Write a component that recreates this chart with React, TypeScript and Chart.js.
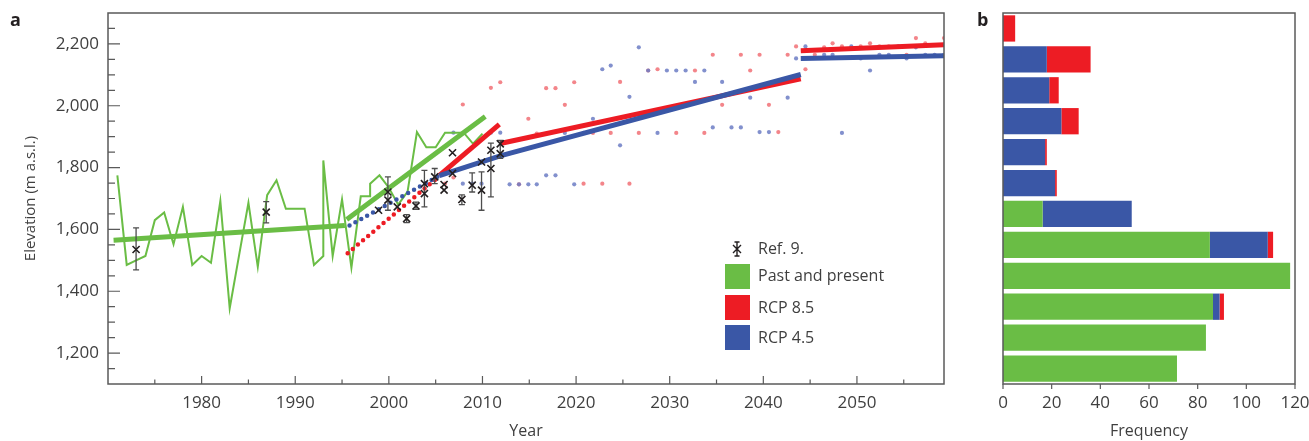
import React, { useEffect, useRef } from 'react';
import { Chart, registerables } from 'chart.js';

Chart.register(...registerables);

const FONT = "'Open Sans', 'DejaVu Sans', sans-serif";
const TEXT = '#3f3f3f';
const AXIS = '#5a5a5a';
const GREEN = '#6abd45';
const RED = '#ed1c24';
const BLUE = '#3a57a6';
const RED_DOT = 'rgba(241,112,118,0.85)';
const BLUE_DOT = 'rgba(108,124,196,0.85)';

// ---------- Panel a ----------
const xTickYears = [1980, 1990, 2000, 2010, 2020, 2030, 2040, 2050];
const yTickElev = [1200, 1400, 1600, 1800, 2000, 2200];

// observed snow-line elevation (past and present)
const obsYears = [1971, 1972, 1973, 1974, 1975, 1976, 1977, 1978, 1979, 1980, 1981, 1982, 1983, 1984, 1985, 1986, 1987, 1988, 1989, 1990, 1991, 1992, 1993, 1993, 1994, 1995, 1996, 1997, 1998, 1998, 1999, 2000, 2001, 2002, 2003, 2004, 2005, 2006, 2007, 2008, 2009, 2010];
const obsElev = [1775, 1485, 1500, 1514, 1630, 1655, 1552, 1673, 1485, 1514, 1492, 1692, 1345, 1516, 1686, 1479, 1711, 1759, 1667, 1667, 1667, 1485, 1514, 1823, 1514, 1697, 1476, 1707, 1707, 1748, 1775, 1735, 1680, 1722, 1915, 1866, 1866, 1913, 1913, 1913, 1877, 1910];

// linear trends of past and present
const trendPastYears = [1970.6, 1995.3];
const trendPastElev = [1565, 1613];
const trendRecentYears = [1995.5, 2010.3];
const trendRecentElev = [1632, 1965];

// projected, hindcast (dotted)
const rcp85HindYears = [1995.6, 2005.3];
const rcp85HindElev = [1523, 1770];
const rcp45HindYears = [1995.8, 2005.3];
const rcp45HindElev = [1613, 1772];

// projected trends
const rcp85FitAYears = [2005.4, 2011.8];
const rcp85FitAElev = [1775, 1940];
const rcp85FitBYears = [2011.9, 2044.0];
const rcp85FitBElev = [1878, 2087];
const rcp45FitYears = [2005.4, 2011.9, 2044.0];
const rcp45FitElev = [1774, 1838, 2101];
const rcp85LateYears = [2044.0, 2059.3];
const rcp85LateElev = [2178, 2197];
const rcp45LateYears = [2044.0, 2059.3];
const rcp45LateElev = [2153, 2162];

// projected yearly values
const proj85Years = [2006.0, 2006.9, 2007.9, 2010.9, 2011.9, 2013.9, 2014.9, 2015.8, 2016.8, 2017.8, 2018.8, 2019.8, 2020.8, 2021.8, 2022.8, 2023.7, 2024.7, 2025.7, 2026.7, 2027.7, 2028.7, 2030.7, 2032.7, 2033.7, 2034.6, 2035.6, 2037.6, 2038.6, 2039.6, 2040.6, 2041.6, 2042.6, 2043.5, 2044.5, 2045.5, 2046.5, 2047.4, 2048.4, 2050.4, 2051.4, 2052.4, 2053.4, 2055.3, 2056.3, 2057.3, 2059.3];
const proj85Elev = [1748, 1768, 2004, 2058, 2076, 1746, 1958, 1910, 2057, 2057, 2003, 2076, 1748, 1912, 1748, 1912, 2077, 1748, 1912, 2114, 2118, 1912, 2114, 1912, 2165, 2003, 2165, 2114, 2165, 2003, 1915, 2165, 2192, 2118, 2165, 2189, 2202, 2192, 2192, 2202, 2192, 2192, 2165, 2219, 2202, 2219];
const proj45Years = [2006.9, 2007.9, 2008.9, 2009.9, 2010.9, 2011.9, 2012.9, 2013.9, 2014.9, 2015.8, 2016.8, 2017.8, 2018.8, 2019.8, 2020.8, 2021.8, 2022.8, 2023.7, 2024.7, 2025.7, 2026.7, 2027.7, 2028.7, 2029.7, 2030.7, 2031.7, 2032.7, 2033.7, 2034.6, 2035.6, 2036.6, 2037.6, 2038.6, 2039.6, 2040.6, 2041.6, 2042.6, 2043.5, 2044.5, 2046.5, 2047.4, 2048.4, 2049.4, 2050.4, 2051.4, 2052.4, 2053.4, 2054.4, 2055.3, 2056.3, 2057.3, 2058.3, 2059.3];
const proj45Elev = [1913, 1748, 1748, 1748, 1913, 1913, 1746, 1746, 1746, 1746, 1775, 1775, 1912, 1746, 1912, 1958, 2118, 2130, 1872, 2029, 2189, 2114, 1912, 2114, 2114, 2114, 2077, 2114, 1930, 2077, 1930, 1930, 2026, 1915, 1915, 2077, 2026, 2153, 2192, 2165, 2165, 1912, 2192, 2153, 2114, 2165, 2165, 2192, 2153, 2189, 2165, 2165, 2165];

// Ref. 9 observations with error bars
const refYears = [1973.0, 1986.9, 1998.9, 1999.9, 1999.9, 2000.9, 2001.9, 2002.9, 2003.8, 2003.8, 2004.9, 2005.9, 2005.9, 2006.8, 2006.8, 2007.8, 2008.9, 2009.9, 2009.9, 2010.9, 2010.9, 2011.9, 2011.9];
const refElev = [1535, 1656, 1662, 1721, 1695, 1673, 1635, 1676, 1748, 1716, 1770, 1727, 1745, 1848, 1781, 1697, 1743, 1727, 1818, 1797, 1856, 1877, 1845];
const refLow = [1469, 1621, 1662, 1662, 1695, 1673, 1622, 1665, 1673, 1716, 1748, 1727, 1745, 1848, 1781, 1680, 1721, 1662, 1818, 1705, 1856, 1830, 1845];
const refHigh = [1605, 1690, 1662, 1770, 1695, 1673, 1648, 1688, 1791, 1716, 1797, 1727, 1745, 1848, 1781, 1712, 1783, 1786, 1818, 1879, 1856, 1888, 1845];

const legendLabels = ['Ref. 9.', 'Past and present', 'RCP 8.5', 'RCP 4.5'];

// ---------- Panel b ----------
const binLabels = ['2,200–2,300', '2,100–2,200', '2,000–2,100', '1,900–2,000', '1,800–1,900', '1,700–1,800', '1,600–1,700', '1,500–1,600', '1,400–1,500', '1,300–1,400', '1,200–1,300', '1,100–1,200'];
const freqPast = [0, 0, 0, 0, 0, 0, 16.3, 85, 118, 86.3, 83.4, 71.5];
const freq45 = [0, 18, 19, 24, 17.3, 21.4, 36.6, 23.8, 0, 2.7, 0, 0];
const freq85 = [5, 18, 3.9, 7.1, 0.7, 0.7, 0, 2.2, 0, 1.8, 0, 0];
const freqTicks = [0, 20, 40, 60, 80, 100, 120];

const xy = (xs: number[], ys: number[]) => xs.map((x, i) => ({ x, y: ys[i] }));

const noPad = (s: any) => {
  s.paddingTop = 0;
  s.paddingBottom = 0;
  s.paddingLeft = 0;
  s.paddingRight = 0;
};

function lineSet(label: string, xs: number[], ys: number[], color: string, width: number, order: number, extra: any = {}) {
  return {
    label,
    data: xy(xs, ys),
    showLine: true,
    borderColor: color,
    backgroundColor: color,
    borderWidth: width,
    pointRadius: 0,
    pointHoverRadius: 0,
    tension: 0,
    fill: false,
    order,
    ...extra,
  };
}

function dotSet(label: string, xs: number[], ys: number[], color: string, order: number) {
  return {
    label,
    data: xy(xs, ys),
    showLine: false,
    pointStyle: 'circle',
    pointRadius: 2.1,
    pointBorderWidth: 0,
    borderWidth: 0,
    backgroundColor: color,
    borderColor: color,
    order,
  };
}

const panelAPlugin = {
  id: 'panelA',
  beforeDatasetDraw(chart: any, args: any) {
    if (args.index !== 0) return;
    const { ctx, scales } = chart;
    const x = scales.x;
    const y = scales.y;
    ctx.save();
    ctx.strokeStyle = '#4d4d4d';
    ctx.lineWidth = 1.3;
    ctx.beginPath();
    refYears.forEach((yr, i) => {
      if (refHigh[i] === refLow[i]) return;
      const px = x.getPixelForValue(yr);
      const p1 = y.getPixelForValue(refHigh[i]);
      const p2 = y.getPixelForValue(refLow[i]);
      ctx.moveTo(px, p1);
      ctx.lineTo(px, p2);
      ctx.moveTo(px - 3, p1);
      ctx.lineTo(px + 3, p1);
      ctx.moveTo(px - 3, p2);
      ctx.lineTo(px + 3, p2);
    });
    ctx.stroke();
    ctx.restore();
  },
  afterDraw(chart: any) {
    const { ctx, chartArea, scales } = chart;
    const { left, right, top, bottom } = chartArea;
    const x = scales.x;
    const y = scales.y;
    ctx.save();
    ctx.strokeStyle = AXIS;
    ctx.lineWidth = 1.5;
    ctx.strokeRect(left, top, right - left, bottom - top);
    ctx.lineWidth = 1.2;
    ctx.beginPath();
    for (let v = 1975; v < x.max; v += 5) {
      const px = x.getPixelForValue(v);
      const len = v % 10 === 0 ? 8 : 4.5;
      ctx.moveTo(px, bottom);
      ctx.lineTo(px, bottom - len);
    }
    for (let v = 1150; v < y.max; v += 50) {
      const py = y.getPixelForValue(v);
      const len = v % 200 === 0 ? 12 : 7;
      ctx.moveTo(left, py);
      ctx.lineTo(left + len, py);
    }
    ctx.stroke();

    // legend
    const lx = 725;
    const tx = 758;
    ctx.font = `16px ${FONT}`;
    ctx.fillStyle = TEXT;
    ctx.textBaseline = 'middle';
    ctx.textAlign = 'left';
    const sx = 737;
    const sy = 249;
    ctx.strokeStyle = '#231f20';
    ctx.lineWidth = 1.4;
    ctx.beginPath();
    ctx.moveTo(sx - 4, sy - 4);
    ctx.lineTo(sx + 4, sy + 4);
    ctx.moveTo(sx + 4, sy - 4);
    ctx.lineTo(sx - 4, sy + 4);
    ctx.moveTo(sx, sy - 7);
    ctx.lineTo(sx, sy + 7);
    ctx.moveTo(sx - 2.5, sy - 7);
    ctx.lineTo(sx + 2.5, sy - 7);
    ctx.moveTo(sx - 2.5, sy + 7);
    ctx.lineTo(sx + 2.5, sy + 7);
    ctx.stroke();
    ctx.fillText(legendLabels[0], tx, 249);
    const boxes = [
      { c: GREEN, y: 264, t: 276 },
      { c: RED, y: 295, t: 308 },
      { c: BLUE, y: 325, t: 338 },
    ];
    boxes.forEach((b, i) => {
      ctx.fillStyle = b.c;
      ctx.fillRect(lx, b.y, 25, 25);
      ctx.fillStyle = TEXT;
      ctx.fillText(legendLabels[i + 1], tx, b.t);
    });
    ctx.restore();
  },
};

const panelBPlugin = {
  id: 'panelB',
  afterDraw(chart: any) {
    const { ctx, chartArea, scales } = chart;
    const { left, right, top, bottom } = chartArea;
    const x = scales.x;
    ctx.save();
    ctx.strokeStyle = AXIS;
    ctx.lineWidth = 1.5;
    ctx.strokeRect(left, top, right - left, bottom - top);
    ctx.lineWidth = 1.2;
    ctx.beginPath();
    freqTicks.forEach((v) => {
      const px = x.getPixelForValue(v);
      ctx.moveTo(px, bottom);
      ctx.lineTo(px, bottom + 5);
    });
    ctx.stroke();
    ctx.restore();
  },
};

function PanelA() {
  const ref = useRef<HTMLCanvasElement>(null);
  useEffect(() => {
    const chart = new Chart(ref.current as HTMLCanvasElement, {
      type: 'scatter',
      data: {
        datasets: [
          {
            label: legendLabels[0],
            data: xy(refYears, refElev),
            showLine: false,
            pointStyle: 'crossRot',
            pointRadius: 5,
            borderWidth: 1.6,
            borderColor: '#231f20',
            backgroundColor: '#231f20',
            order: 0,
          } as any,
          lineSet('Past and present trend (recent)', trendRecentYears, trendRecentElev, GREEN, 5, 1),
          lineSet('RCP 4.5 fit', rcp45FitYears, rcp45FitElev, BLUE, 5, 2),
          lineSet('RCP 8.5 fit A', rcp85FitAYears, rcp85FitAElev, RED, 5, 3),
          lineSet('RCP 8.5 fit B', rcp85FitBYears, rcp85FitBElev, RED, 5, 3),
          lineSet('RCP 4.5 late', rcp45LateYears, rcp45LateElev, BLUE, 5, 2),
          lineSet('RCP 8.5 late', rcp85LateYears, rcp85LateElev, RED, 5, 3),
          lineSet('Past and present trend', trendPastYears, trendPastElev, GREEN, 5, 4),
          lineSet('RCP 4.5 hindcast', rcp45HindYears, rcp45HindElev, BLUE, 4.5, 5, { borderDash: [0, 6.7], borderCapStyle: 'round' }),
          lineSet('RCP 8.5 hindcast', rcp85HindYears, rcp85HindElev, RED, 4.5, 5, { borderDash: [0, 6.7], borderCapStyle: 'round' }),
          lineSet('Past and present', obsYears, obsElev, GREEN, 2, 6),
          dotSet('RCP 4.5 yearly', proj45Years, proj45Elev, BLUE_DOT, 7),
          dotSet('RCP 8.5 yearly', proj85Years, proj85Elev, RED_DOT, 8),
        ],
      },
      options: {
        responsive: false,
        animation: false,
        events: [],
        layout: { padding: { left: 0, top: 13, right: 26, bottom: 0 } },
        plugins: { legend: { display: false }, tooltip: { enabled: false } },
        scales: {
          x: {
            type: 'linear',
            min: 1970,
            max: 2059.3,
            afterBuildTicks: (s: any) => {
              s.ticks = xTickYears.map((v) => ({ value: v }));
            },
            afterFit: (s: any) => {
              s.height = 57;
              noPad(s);
            },
            grid: { display: false, drawTicks: false },
            border: { display: false },
            ticks: {
              padding: 9,
              color: TEXT,
              font: { family: FONT, size: 17 },
              maxRotation: 0,
              autoSkip: false,
              callback: (v: any) => String(v),
            },
            title: {
              display: true,
              text: 'Year',
              color: TEXT,
              font: { family: FONT, size: 16 },
              padding: { top: 0, bottom: 0 },
            },
          },
          y: {
            type: 'linear',
            min: 1100,
            max: 2300,
            afterBuildTicks: (s: any) => {
              s.ticks = yTickElev.map((v) => ({ value: v }));
            },
            afterFit: (s: any) => {
              s.width = 108;
              noPad(s);
            },
            grid: { display: false, drawTicks: false },
            border: { display: false },
            ticks: {
              padding: 9,
              color: TEXT,
              font: { family: FONT, size: 17 },
              autoSkip: false,
              callback: (v: any) => Number(v).toLocaleString('en-US'),
            },
            title: {
              display: true,
              text: 'Elevation (m a.s.l.)',
              color: TEXT,
              font: { family: FONT, size: 15 },
              padding: { top: 22, bottom: 0 },
            },
          },
        },
      },
      plugins: [panelAPlugin],
    } as any);
    return () => chart.destroy();
  }, []);
  return <canvas ref={ref} width={970} height={441} style={{ position: 'absolute', left: 0, top: 0 }} />;
}

function PanelB() {
  const ref = useRef<HTMLCanvasElement>(null);
  useEffect(() => {
    const common = { barPercentage: 0.85, categoryPercentage: 1, borderWidth: 0 };
    const chart = new Chart(ref.current as HTMLCanvasElement, {
      type: 'bar',
      data: {
        labels: binLabels,
        datasets: [
          { label: 'Past and present', data: freqPast, backgroundColor: GREEN, ...common },
          { label: 'RCP 4.5', data: freq45, backgroundColor: BLUE, ...common },
          { label: 'RCP 8.5', data: freq85, backgroundColor: RED, ...common },
        ],
      },
      options: {
        indexAxis: 'y',
        responsive: false,
        animation: false,
        events: [],
        layout: { padding: { left: 0, top: 13, right: 14, bottom: 0 } },
        plugins: { legend: { display: false }, tooltip: { enabled: false } },
        scales: {
          x: {
            type: 'linear',
            stacked: true,
            min: 0,
            max: 120,
            afterBuildTicks: (s: any) => {
              s.ticks = freqTicks.map((v) => ({ value: v }));
            },
            afterFit: (s: any) => {
              s.height = 57;
              noPad(s);
            },
            grid: { display: false, drawTicks: false },
            border: { display: false },
            ticks: {
              padding: 9,
              color: TEXT,
              font: { family: FONT, size: 17 },
              maxRotation: 0,
              autoSkip: false,
            },
            title: {
              display: true,
              text: 'Frequency',
              color: TEXT,
              font: { family: FONT, size: 16 },
              padding: { top: 0, bottom: 0 },
            },
          },
          y: {
            type: 'category',
            stacked: true,
            afterFit: (s: any) => {
              s.width = 33;
              noPad(s);
            },
            grid: { display: false, drawTicks: false },
            border: { display: false },
            ticks: { display: false },
          },
        },
      },
      plugins: [panelBPlugin],
    } as any);
    return () => chart.destroy();
  }, []);
  return <canvas ref={ref} width={339} height={441} style={{ position: 'absolute', left: 970, top: 0 }} />;
}

export default function App() {
  const letter: React.CSSProperties = {
    position: 'absolute',
    top: 7,
    fontFamily: FONT,
    fontWeight: 700,
    fontSize: 18,
    lineHeight: '24px',
    color: '#231f20',
  };
  return (
    <div style={{ position: 'fixed', left: 0, top: 0, width: 1309, height: 441, background: '#fff', overflow: 'hidden' }}>
      <PanelA />
      <PanelB />
      <div style={{ ...letter, left: 10 }}>a</div>
      <div style={{ ...letter, left: 977 }}>b</div>
    </div>
  );
}
